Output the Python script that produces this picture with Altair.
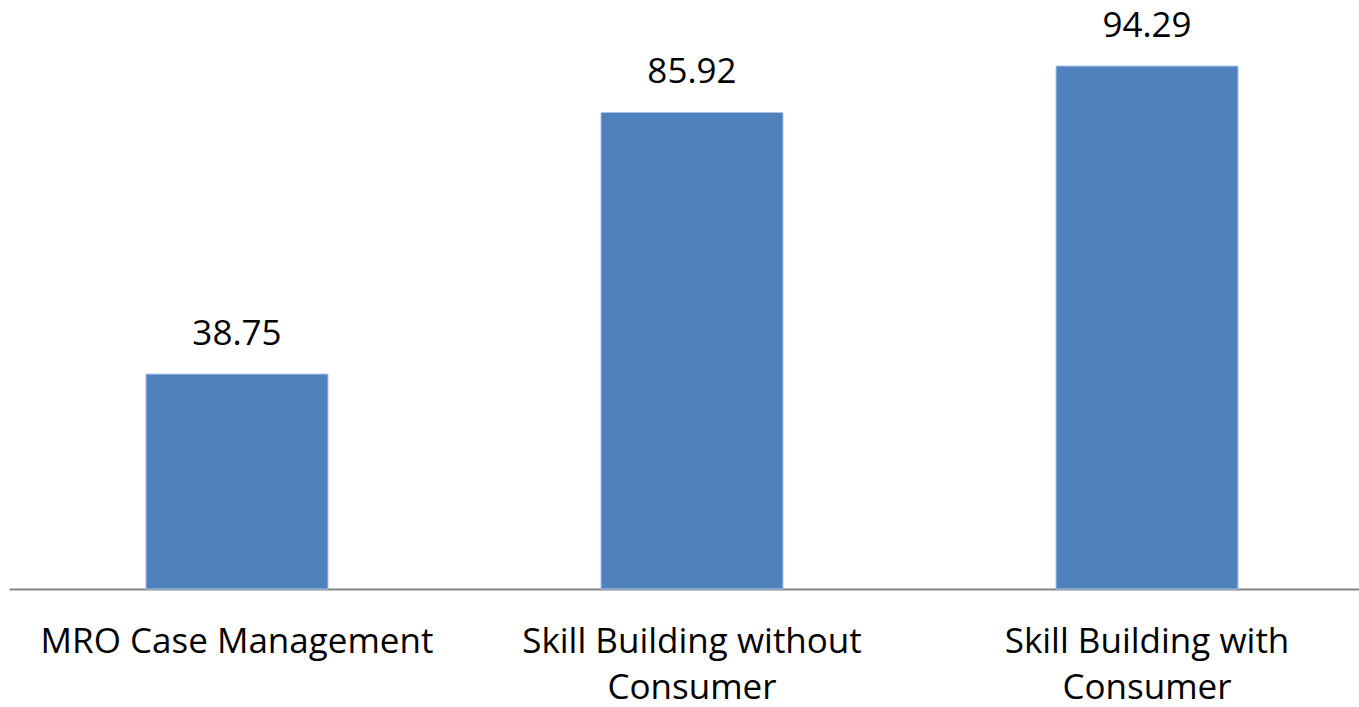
import altair as alt
import pandas as pd

categories = ["MRO Case Management", "Skill Building without Consumer", "Skill Building with Consumer"]
values = [38.75, 85.92, 94.29]
value_labels = ["38.75", "85.92", "94.29"]

df = pd.DataFrame({"category": categories, "value": values, "label": value_labels})

FONT = "Open Sans"

x = alt.X(
    "category:N",
    sort=categories,
    title=None,
    scale=alt.Scale(paddingInner=0.6, paddingOuter=0.2835, align=0.531),
    axis=alt.Axis(
        labelAngle=0,
        labelFont=FONT,
        labelFontSize=35,
        labelColor="#000000",
        labelPadding=35,
        labelLineHeight=46,
        ticks=False,
        domainColor="#868686",
        domainWidth=2,
        labelLimit=600,
        labelExpr="indexof(datum.label, ' Consumer') > 0 ? [replace(datum.label, ' Consumer', ''), 'Consumer'] : datum.label",
    ),
)

y = alt.Y(
    "value:Q",
    scale=alt.Scale(domain=[0, 106.2], nice=False, zero=True),
    axis=None,
)

bars = alt.Chart(df).mark_bar(color="#4F81BD", stroke="#A9C4E8", strokeWidth=1).encode(x=x, y=y)

text = alt.Chart(df).mark_text(
    font=FONT, fontSize=35, color="#000000", baseline="alphabetic", dy=-29
).encode(x=x, y=y, text="label:N")

chart = (
    alt.layer(bars, text)
    .properties(
        width=1350,
        height=589,
        autosize=alt.AutoSizeParams(type="none"),
        padding={"left": 9, "top": 0, "right": 0, "bottom": 118},
        view=alt.ViewBackground(stroke="transparent", strokeWidth=0),
    )
    .configure_view(strokeWidth=0, stroke="transparent")
    .configure(background="#ffffff")
)

chart.save("out.html", embed_options={"renderer": "svg", "actions": False})
